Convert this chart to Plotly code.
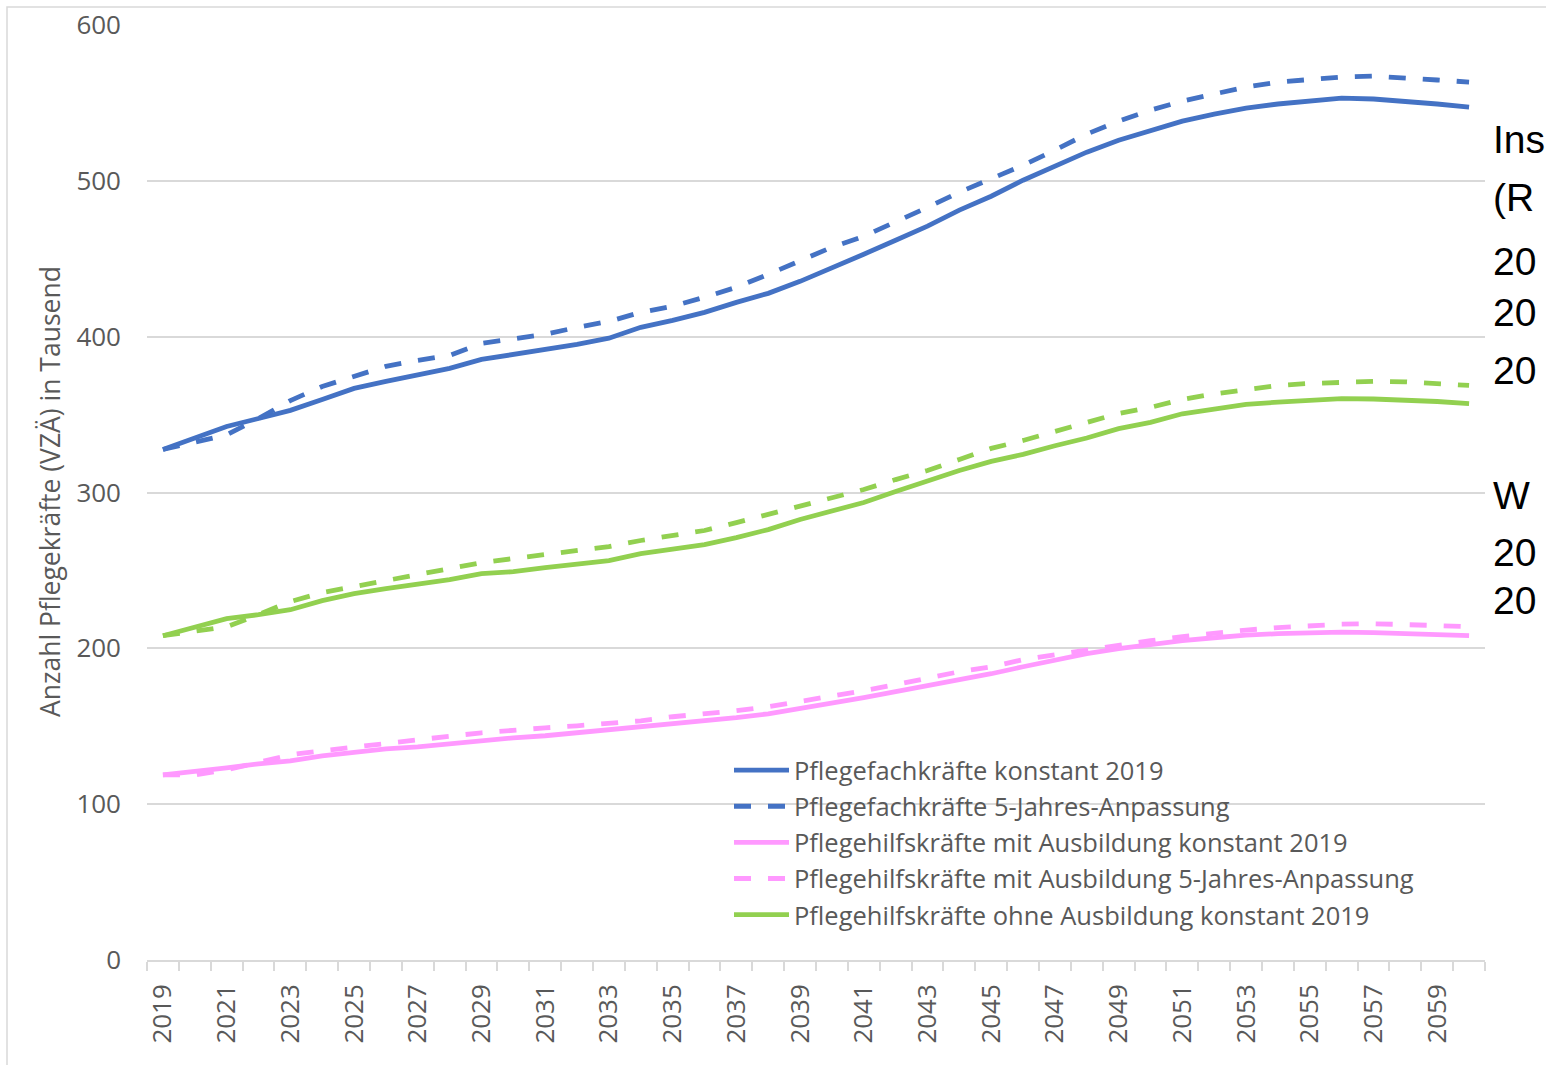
import plotly.graph_objects as go

years = list(range(2019, 2061))
tick_years = [y for y in years if y % 2 == 1]
tick_text = [str(y) for y in tick_years]

fach_konstant = [327.6, 335.3, 342.4, 347.5, 352.7, 359.7, 366.8, 371.3, 375.2, 379.7, 385.4, 388.6, 392.5, 395.0, 399.0,
                 406.0, 410.5, 415.6, 422.0, 427.8, 435.5, 444.0, 452.9, 461.9, 470.9, 481.2, 490.1,
                 500.4, 509.4, 518.4, 526.1, 532.5, 538.3, 542.8, 546.7, 549.3, 551.2, 553.1, 552.5, 551.2, 549.3, 547.3]
fach_anpassung = [327.6, 332.4, 337.0, 347.5, 359.0, 368.0, 374.5, 381.0, 384.8, 388.0, 395.7, 398.3, 401.5, 406.0, 409.8,
                  415.6, 419.5, 425.3, 431.7, 440.0, 448.4, 457.4, 464.4, 473.4, 483.0, 492.7, 501.0,
                  510.0, 519.7, 530.0, 538.3, 545.4, 551.2, 555.7, 560.2, 563.4, 565.3, 566.6, 567.2, 566.3, 564.7, 563.4]
hilf_mit_konstant = [118.8, 120.8, 123.3, 125.9, 127.8, 131.0, 133.6, 135.5, 136.8, 138.8, 141.3, 142.6, 143.9, 145.8, 147.4,
                     149.7, 151.0, 152.9, 155.5, 158.0, 161.2, 164.5, 168.3, 172.2, 176.0, 179.9, 183.7,
                     188.2, 192.7, 196.6, 199.8, 202.4, 204.9, 206.8, 208.5, 209.4, 210.1, 210.4, 210.1, 209.4, 208.8, 208.1]
hilf_mit_anpassung = [118.8, 118.8, 122.0, 126.5, 131.7, 134.3, 136.8, 139.1, 141.3, 143.6, 145.8, 147.7, 149.0, 150.3, 152.0,
                      153.5, 156.1, 157.7, 160.0, 162.5, 165.7, 169.0, 172.8, 176.7, 181.2, 185.0, 188.2,
                      192.7, 195.9, 199.1, 202.4, 204.9, 207.5, 209.7, 211.7, 213.3, 214.6, 215.5, 215.8, 215.5, 214.6, 213.9]
hilf_ohne_konstant = [208.1, 213.9, 219.0, 221.6, 224.8, 230.6, 235.1, 238.3, 240.9, 244.1, 248.0, 249.2, 251.8, 254.4, 256.3,
                      260.8, 263.4, 266.6, 271.1, 276.2, 282.7, 287.8, 293.6, 300.6, 307.7, 314.1, 320.0,
                      324.5, 330.0, 335.0, 341.0, 345.0, 350.5, 353.6, 356.5, 358.0, 359.4, 360.2, 360.0, 359.4, 358.4, 357.0]
hilf_ohne_anpassung = [208.1, 210.7, 213.9, 221.6, 230.0, 235.8, 239.6, 243.5, 247.3, 251.2, 255.0, 257.6, 260.2, 262.7, 265.3,
                       269.2, 272.4, 275.6, 280.7, 285.9, 291.0, 296.1, 301.9, 308.3, 314.1, 321.2, 328.3,
                       333.4, 339.2, 345.6, 350.7, 354.6, 359.7, 363.3, 366.2, 368.7, 370.0, 371.0, 371.3, 371.0, 370.0, 368.7]

side_lines_1 = ["Ins", "(R", "20", "20", "20"]
side_lines_2 = ["W", "20", "20"]

BLUE = "#4472C4"
PINK = "#FF99FF"
GREEN = "#92D050"
DASH = "17px,17px"
LW = 4.8

series = [
    ("Pflegefachkräfte konstant 2019", fach_konstant, BLUE, "solid", True),
    ("Pflegefachkräfte 5-Jahres-Anpassung", fach_anpassung, BLUE, DASH, True),
    ("Pflegehilfskräfte mit Ausbildung konstant 2019", hilf_mit_konstant, PINK, "solid", True),
    ("Pflegehilfskräfte mit Ausbildung 5-Jahres-Anpassung", hilf_mit_anpassung, PINK, DASH, True),
    ("Pflegehilfskräfte ohne Ausbildung konstant 2019", hilf_ohne_konstant, GREEN, "solid", True),
    ("Pflegehilfskräfte ohne Ausbildung 5-Jahres-Anpassung", hilf_ohne_anpassung, GREEN, DASH, False),
]

fig = go.Figure()
for name, vals, col, dash, show in series:
    fig.add_trace(go.Scatter(x=years, y=vals, mode="lines", name=name, showlegend=show,
                             line=dict(color=col, width=LW, dash=dash)))

W, H = 1546, 1065
L, R, T, B = 147, 61, 25, 105
pw, ph = W - L - R, H - T - B

def px_x(x):
    return (x - L) / pw

def px_y(y):
    return (H - B - y) / ph

annotations = [
    dict(text="Anzahl Pflegekräfte (VZÄ) in Tausend", textangle=-90, xref="paper", yref="paper",
         x=px_x(50), y=px_y(492), xanchor="center", yanchor="middle", showarrow=False,
         font=dict(family="Open Sans", size=26.5, color="#595959")),
]
for txt, yc in zip(side_lines_1, [139, 197, 261, 312, 370]):
    annotations.append(dict(text=txt, xref="paper", yref="paper", x=px_x(1491), y=px_y(yc),
                            xanchor="left", yanchor="middle", showarrow=False,
                            font=dict(family="Liberation Sans", size=39, color="#000000")))
for txt, yc in zip(side_lines_2, [496, 552, 601]):
    annotations.append(dict(text=txt, xref="paper", yref="paper", x=px_x(1491), y=px_y(yc),
                            xanchor="left", yanchor="middle", showarrow=False,
                            font=dict(family="Liberation Sans", size=39, color="#000000")))

fig.update_layout(
    width=W, height=H,
    margin=dict(l=L, r=R, t=T, b=B, autoexpand=False),
    paper_bgcolor="white", plot_bgcolor="white",
    font=dict(family="Open Sans", color="#595959"),
    showlegend=True,
    legend=dict(x=px_x(729), y=px_y(747), xanchor="left", yanchor="top",
                bgcolor="rgba(0,0,0,0)", font=dict(family="Open Sans", size=25.5, color="#595959"),
                itemwidth=55, tracegroupgap=0),
    annotations=annotations,
    shapes=[dict(type="rect", xref="paper", yref="paper", x0=px_x(7), x1=px_x(1700),
                 y0=px_y(1200), y1=px_y(7), line=dict(color="#d9d9d9", width=1.5), layer="below")],
)

fig.update_xaxes(
    range=[2018.5, 2060.5], tickmode="array", tickvals=tick_years, ticktext=tick_text,
    tickangle=-90, ticks="", showgrid=False, zeroline=False,
    showline=True, linecolor="#d9d9d9", linewidth=1.5,
    tickfont=dict(family="Open Sans", size=26, color="#595959"), ticklabelstandoff=12,
    minor=dict(tickmode="linear", tick0=2018.5, dtick=1, ticks="outside", ticklen=9,
               tickcolor="#d9d9d9", tickwidth=1.5, showgrid=False),
)
fig.update_yaxes(
    range=[0, 600], tickmode="array", tickvals=[0, 100, 200, 300, 400, 500, 600],
    showgrid=True, gridcolor="#d9d9d9", gridwidth=1.5, zeroline=False, showline=False,
    ticks="", tickfont=dict(family="Open Sans", size=26, color="#595959"), ticklabelstandoff=25,
)

fig.write_html("out.html")
